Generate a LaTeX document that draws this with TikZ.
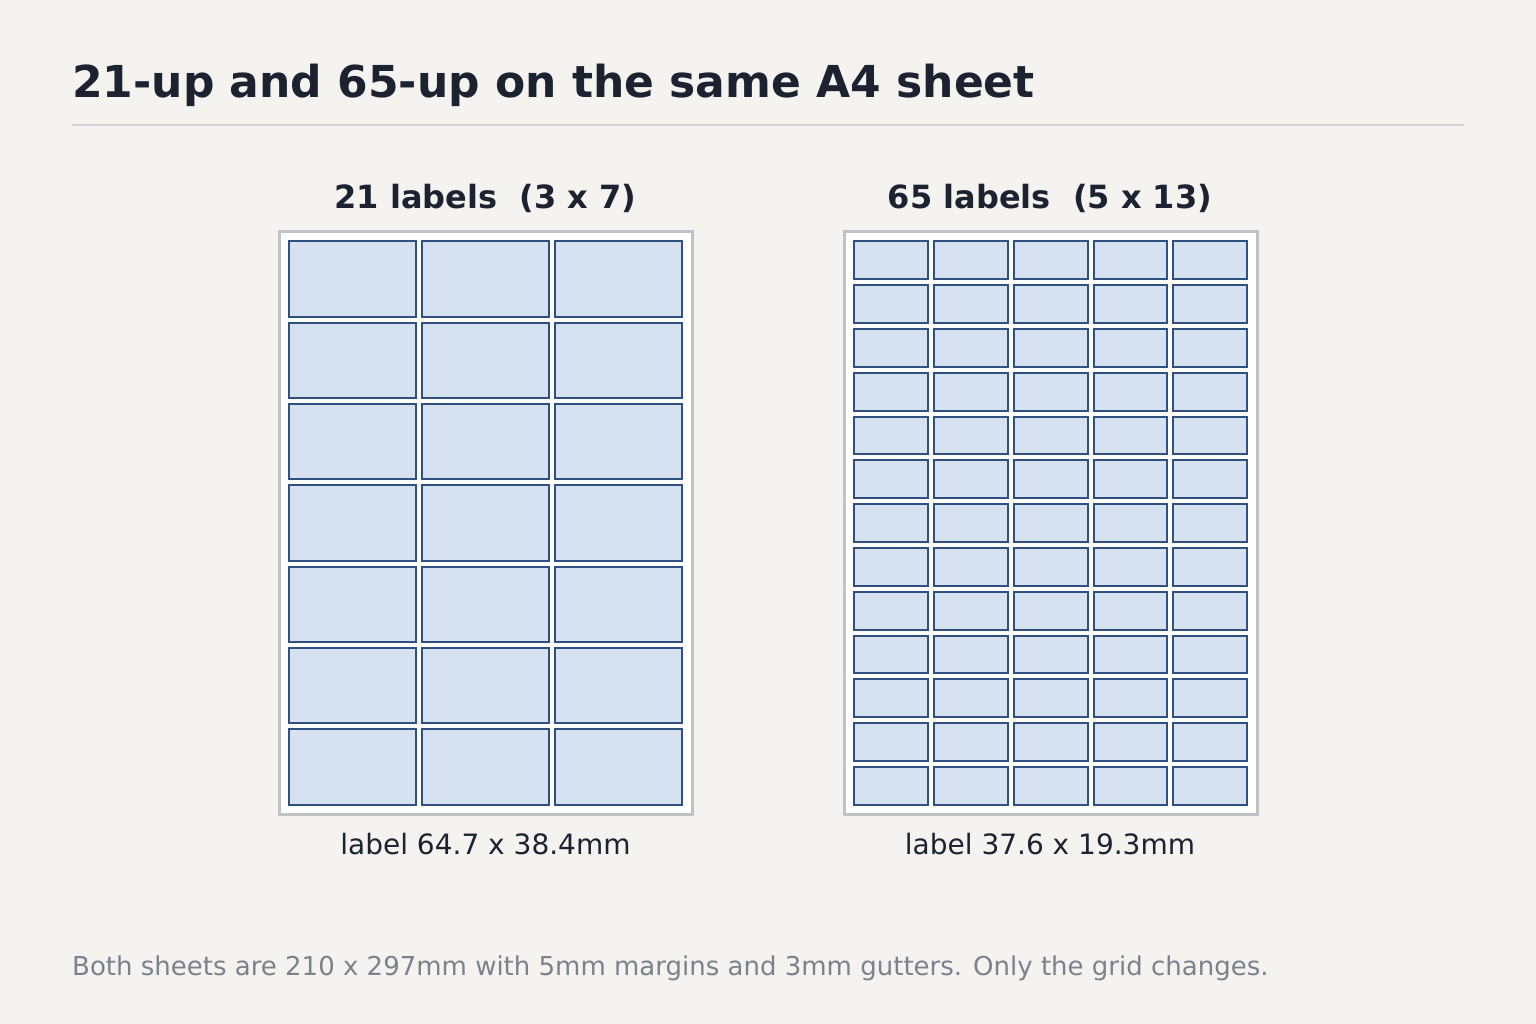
\documentclass[tikz,border=0pt]{standalone}
\usepackage{fontspec}
\setmainfont{DejaVu Sans}
\definecolor{bg}{HTML}{F4F3F0}
\definecolor{ink}{HTML}{1C2230}
\definecolor{rulec}{HTML}{D0D2D8}
\definecolor{sheetb}{HTML}{BFC3C8}
\definecolor{labfill}{HTML}{D6E2F0}
\definecolor{labdraw}{HTML}{2F5080}
\definecolor{foot}{HTML}{7D818C}
\tikzset{
  sheetbox/.style={draw=sheetb, line width=3pt, fill=white},
  labbox/.style={draw=labdraw, line width=2pt, fill=labfill},
  titletxt/.style={font=\fontsize{44}{52}\selectfont\bfseries, text=ink, inner sep=0pt, anchor=base west},
  subtxt/.style={font=\fontsize{32}{38}\selectfont\bfseries, text=ink, inner sep=0pt, anchor=base},
  captxt/.style={font=\fontsize{28}{34}\selectfont, text=ink, inner sep=0pt, anchor=base},
  foottxt/.style={font=\fontsize{26}{31}\selectfont, text=foot, inner sep=0pt, anchor=base west},
}
\newcommand{\mysheet}[6]{% name, x0, cols, rows, w, h
  \pgfmathsetmacro{\sc}{412.5/210}
  \draw[sheetbox] (#2,231.5) rectangle ++(210*\sc,297*\sc);
  \foreach \c in {1,...,#3}{
    \foreach \r in {1,...,#4}{
      \pgfmathsetmacro{\lx}{#2+(5+(\c-1)*(#5+3))*\sc}
      \pgfmathsetmacro{\ly}{231.5+(5+(\r-1)*(#6+3))*\sc}
      \draw[labbox] (\lx,\ly) rectangle ++(#5*\sc,#6*\sc);
    }
  }
}
\begin{document}
\begin{tikzpicture}[x=1pt,y=-1pt]
\useasboundingbox[fill=bg] (0,0) rectangle (1536,1024);
\node[titletxt] (title) at (72,98) {21-up and 65-up on the same A4 sheet};
\draw[rulec, line width=1.5pt] (72,125) -- (1464,125);
\node[subtxt] (sub1) at (485.5,209) {21 labels\ \ (3 x 7)};
\node[subtxt] (sub2) at (1050,209) {65 labels\ \ (5 x 13)};
\mysheet{s1}{279.5}{3}{7}{64.7}{38.4}
\mysheet{s2}{844.5}{5}{13}{37.6}{19.3}
\node[captxt] (cap1) at (485.5,854) {label 64.7 x 38.4mm};
\node[captxt] (cap2) at (1050,854) {label 37.6 x 19.3mm};
\node[foottxt] (foot) at (72,975) {Both sheets are 210 x 297mm with 5mm margins and 3mm gutters. Only the grid changes.};
\end{tikzpicture}
\end{document}
